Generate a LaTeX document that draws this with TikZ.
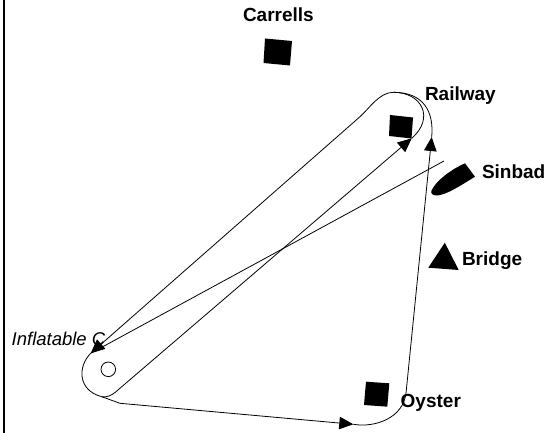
\documentclass[tikz,border=0pt]{standalone}
\usepackage{fontspec}
\setsansfont{Liberation Sans}
\usetikzlibrary{arrows.meta}
\tikzset{
  lbl/.style={anchor=base west,inner sep=0pt,outer sep=0pt,font=\sffamily\bfseries\fontsize{19}{21}\selectfont},
  ilbl/.style={anchor=base west,inner sep=0pt,outer sep=0pt,font=\sffamily\itshape\fontsize{18.5}{21}\selectfont},
  route/.style={line width=0.8pt,black},
  arr/.style={route,-{Triangle[length=14pt,width=12.5pt]}},
  solidmark/.style={fill=black,draw=none}
}
\begin{document}
\begin{tikzpicture}[x=1pt,y=-1pt]
\useasboundingbox (0,0) rectangle (549,433);
\fill[white] (0,0) rectangle (549,433);
% left border
\draw[line width=2pt] (4.3,0) -- (4.3,433);

% labels
\node[lbl] (carrellsL) at (243,21.7) {Carrells};
\node[lbl] (railwayL) at (425,100.7) {Railway};
\node[lbl] (sinbadL) at (482,178.3) {Sinbad};
\node[lbl] (bridgeL) at (462,265) {Bridge};
\node[lbl] (oysterL) at (400.7,407) {Oyster};
\node[ilbl] (inflL) at (11.7,345) {Inflatable C};

% marks
\fill[solidmark] (265,38.5) -- (292,41) -- (290,65.5) -- (263.5,63) -- cycle;
\fill[solidmark] (390,115) -- (413,117.5) -- (411.5,138.5) -- (389,136) -- cycle;
\fill[solidmark] (366,381.7) -- (389.3,383.3) -- (387.3,406.7) -- (364,405) -- cycle;
\fill[solidmark] (444.8,242.7) -- (428.3,267.7) -- (458.7,270) -- cycle;
\fill[solidmark] (465,163.3) -- (475,176.7) .. controls (460,186) and (446,195) .. (437,195.5)
  .. controls (432,195.7) and (430.5,193) .. (431.5,190.5)
  .. controls (436,181) and (450,170) .. (465,163.3) -- cycle;
\draw[route] (108.3,369.3) circle (7.3);

% route points
\coordinate (S) at (444,161);
\coordinate (T1) at (90.7,353.3);
\coordinate (UL) at (360,116.7);
\coordinate (Top) at (393.3,92.3);
\coordinate (R1) at (411.7,138.3);
\coordinate (R2) at (431.7,137);
\coordinate (B) at (101.7,396.7);
\coordinate (E) at (115,392.5);
\coordinate (b1) at (120,403.3);
\coordinate (K) at (353.3,424.3);
\coordinate (O1) at (406,393.3);

% start line
\draw[route] (S) -- (T1);
% upper-left side of loop into Inflatable
\draw[arr] (UL) -- (T1);
% around Inflatable
\draw[route] (T1) .. controls (78,366) and (77,390) .. (B);
\draw[route] (B) .. controls (107,397.5) and (111,395.5) .. (E);
% lower-right side to Railway
\draw[arr] (E) -- (R1);
% around Railway
\draw[route] (R1) .. controls (435,118) and (422,92.3) .. (Top);
\draw[route] (Top) .. controls (379.3,92.3) and (369,108.8) .. (UL);
% to Oyster
\draw[arr] (B) -- (b1) -- (K);
\draw[route] (K) .. controls (375,428) and (403,418) .. (O1);
% up to Railway
\draw[arr] (O1) -- (R2);
\draw[route] (R2) .. controls (434,112) and (424,92.3) .. (Top);
\end{tikzpicture}
\end{document}
